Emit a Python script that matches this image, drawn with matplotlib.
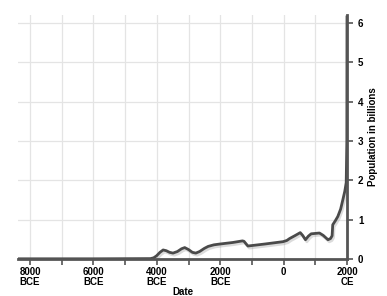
import numpy as np
import matplotlib
matplotlib.use("Agg")
import matplotlib.pyplot as plt
import matplotlib.patheffects as pe

# Population (billions) by year; negative = BCE
years = [-8380, -8000, -6000, -4200, -4100, -4010, -3900, -3800, -3700, -3600,
         -3490, -3350, -3220, -3120, -3000, -2880, -2770, -2650, -2500, -2380,
         -2200, -2015, -1600, -1300, -1250, -1180, -1125, -600, -20, 100,
         190, 350, 525, 600, 690, 780, 870, 1130, 1250, 1400, 1480, 1530,
         1550, 1630, 1710, 1800, 1870, 1930, 1975, 1995, 2000]
pop = [0.005, 0.005, 0.005, 0.01, 0.03, 0.08, 0.17, 0.23, 0.21, 0.17,
       0.15, 0.19, 0.26, 0.29, 0.24, 0.17, 0.15, 0.19, 0.27, 0.32,
       0.36, 0.38, 0.42, 0.46, 0.45, 0.38, 0.33, 0.38, 0.44, 0.47,
       0.52, 0.59, 0.67, 0.6, 0.49, 0.58, 0.64, 0.66, 0.6, 0.49, 0.52, 0.59,
       0.87, 0.97, 1.08, 1.27, 1.51, 1.72, 1.94, 3.0, 6.15]

xticks = [-8000, -6000, -4000, -2000, 0, 2000]
xlabels = ["8000\nBCE", "6000\nBCE", "4000\nBCE", "2000\nBCE", "0", "2000\nCE"]
yticks = [0, 1, 2, 3, 4, 5, 6]

plt.rcParams['font.family'] = ['Liberation Sans', 'DejaVu Sans']

fig = plt.figure(figsize=(3.87, 2.96), dpi=100)
ax = fig.add_axes([18/387, 1-259/296, 329/387, 244/296])

ax.plot(years, pop, color='#4a4a4a', lw=2, solid_joinstyle='round',
        path_effects=[pe.SimpleLineShadow(offset=(1, -1.5), shadow_color='#999', alpha=0.35),
                      pe.Normal()])

ax.set_xlim(-8380, 2000)
ax.set_ylim(0, 6.2)

ax.set_xticks(xticks)
ax.set_xticklabels(xlabels, fontsize=7, fontweight='bold', linespacing=0.9)
ax.set_xticks(np.arange(-8000, 2001, 1000), minor=True)
ax.set_yticks(yticks)
ax.set_yticklabels([str(v) for v in yticks], fontsize=7, fontweight='bold')

ax.yaxis.tick_right()
ax.yaxis.set_label_position('right')
ax.tick_params(axis='x', which='both', direction='out', length=4, width=1.2,
               color='#555', pad=2)
ax.tick_params(axis='y', direction='out', length=4, width=1.2, color='#555', pad=4)

ax.grid(True, which='both', axis='x', color='#e4e4e4', lw=0.9)
ax.grid(True, which='major', axis='y', color='#e4e4e4', lw=0.9)
ax.set_axisbelow(True)

for s in ['left', 'top']:
    ax.spines[s].set_visible(False)
for s in ['right', 'bottom']:
    ax.spines[s].set_color('#555')
    ax.spines[s].set_linewidth(2)

ax.set_xlabel('Date', fontsize=7, fontweight='bold', labelpad=0)
ax.set_ylabel('Population in billions', fontsize=7, fontweight='bold', labelpad=3)

fig.savefig('out.png', dpi=100)
